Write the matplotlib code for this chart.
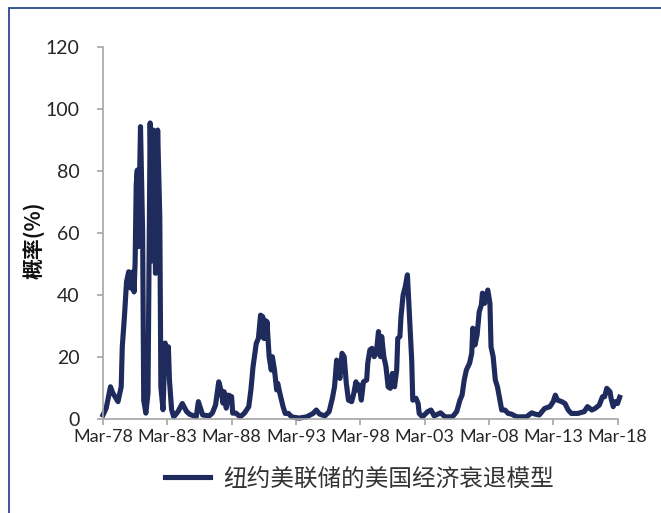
import matplotlib.pyplot as plt
from matplotlib.patches import Rectangle

# Months after Mar-78 and recession probability (%)
months = [0, 3, 7, 9, 14, 17, 18, 20, 22, 24, 26, 28, 29, 30, 31, 32, 33, 35, 37, 38,
          40, 42, 44, 46, 47, 49, 51, 53, 54, 56, 58, 60, 61, 62, 64, 66, 70, 74, 78, 81,
          87, 89, 93, 99, 102, 105, 108, 110, 112, 113, 115, 117, 120, 121, 124, 128, 132, 136, 138, 140,
          143, 145, 147, 149, 150, 151, 152, 153, 155, 157, 158, 160, 162, 163, 165, 168, 170, 173, 176, 183,
          190, 196, 199, 202, 207, 211, 214, 216, 218, 219, 221, 223, 225, 227, 229, 232, 234, 236, 237, 239,
          241, 243, 246, 247, 249, 251, 253, 255, 257, 259, 260, 262, 264, 266, 268, 270, 272, 274, 275, 277,
          278, 280, 282, 284, 286, 288, 289, 292, 294, 295, 298, 303, 306, 309, 315, 319, 326, 330, 333, 335,
          337, 339, 342, 344, 345, 347, 349, 351, 353, 354, 356, 359, 361, 362, 364, 366, 368, 372, 375, 378,
          381, 386, 395, 400, 403, 407, 412, 417, 420, 422, 424, 428, 431, 434, 437, 443, 449, 452, 456, 459,
          463, 466, 468, 470, 473, 474, 476, 478, 480, 482]
prob = [1.3, 3.5, 10.4, 8.5, 5.6, 10.4, 23.3, 33.0, 44.3, 47.5, 42.2, 47.5, 41.0, 51.0, 75.5, 80.3, 55.6, 94.3, 60.0, 6.0,
        1.9, 8.4, 95.5, 51.0, 93.2, 47.0, 93.2, 65.0, 10.4, 3.0, 24.5, 14.8, 23.3, 12.6, 3.0, 0.7, 2.4, 5.0, 2.4, 1.5,
        0.7, 5.6, 1.3, 1.0, 1.9, 4.5, 12.0, 9.4, 5.1, 8.8, 3.5, 7.7, 7.2, 1.9, 1.9, 0.7, 1.9, 4.0, 9.4, 16.9,
        24.4, 26.0, 33.5, 33.0, 26.0, 31.9, 26.0, 31.4, 20.1, 15.8, 20.1, 15.8, 9.4, 11.5, 8.3, 4.0, 1.8, 1.8, 0.7, 0.3,
        0.7, 1.8, 2.9, 1.6, 1.0, 2.4, 6.7, 10.4, 19.0, 18.0, 13.1, 21.2, 20.1, 11.5, 6.1, 5.6, 8.3, 12.0, 9.4, 11.0,
        6.1, 12.0, 12.6, 18.0, 22.3, 22.8, 20.1, 21.2, 28.2, 20.1, 26.6, 20.1, 16.9, 10.4, 9.9, 14.7, 10.4, 15.8, 26.0, 26.6,
        33.0, 40.0, 42.7, 46.5, 33.0, 19.0, 6.1, 6.7, 5.0, 1.8, 0.7, 2.4, 2.9, 1.0, 2.0, 0.7, 0.7, 2.4, 6.1, 7.7,
        12.6, 15.8, 18.0, 21.2, 29.3, 23.9, 27.1, 34.6, 36.8, 40.6, 37.3, 41.6, 37.3, 23.3, 20.1, 12.6, 10.4, 2.9, 2.9, 1.8,
        1.6, 0.7, 0.7, 2.0, 1.6, 1.3, 3.4, 4.0, 5.6, 7.7, 6.1, 5.6, 5.0, 2.9, 1.8, 1.8, 2.4, 4.0, 2.9, 3.4,
        4.5, 7.2, 7.2, 9.9, 8.8, 6.7, 4.0, 5.6, 5.0, 7.01]

tick_months = [0, 60, 120, 180, 240, 300, 360, 420, 480]
tick_labels = ['Mar-78', 'Mar-83', 'Mar-88', 'Mar-93', 'Mar-98',
               'Mar-03', 'Mar-08', 'Mar-13', 'Mar-18']

navy = '#1e2b5c'
grey = '#a6a6a6'
cjk = ['Noto Sans CJK SC', 'DejaVu Sans']

plt.rcParams['font.family'] = ['Lato', 'DejaVu Sans']

fig = plt.figure(figsize=(6.61, 5.13), dpi=100)
ax = fig.add_axes([0.1558, 0.1832, 0.7784, 0.7252])

# outer frame, cut off at right and bottom like the source image
fig.patches.append(Rectangle((9 / 661, -0.2), 1.2, 1.2 - 8 / 513,
                             transform=fig.transFigure, fill=False,
                             edgecolor='#2b4a8c', linewidth=1.3))

ax.plot(months, prob, color=navy, linewidth=3.7, solid_joinstyle='round',
        clip_on=False, label='纽约美联储的美国经济衰退模型')

ax.set_xlim(0, 480)
ax.set_ylim(0, 120)
ax.set_yticks(range(0, 121, 20))
ax.set_xticks(tick_months)
ax.set_xticklabels(tick_labels)

for side in ['top', 'right']:
    ax.spines[side].set_visible(False)
for side in ['left', 'bottom']:
    ax.spines[side].set_color(grey)
    ax.spines[side].set_linewidth(1.2)

ax.tick_params(axis='y', direction='out', length=4, color=grey, width=1.2,
               labelsize=14, labelcolor='#262626', pad=13)
ax.tick_params(axis='x', direction='out', length=4, color=grey, width=1.2,
               labelsize=13, labelcolor='#262626', pad=3)

ax.annotate(f'{prob[-1]:.2f}', xy=(months[-1], prob[-1]), xytext=(-14, 22),
            textcoords='offset points', ha='center', va='center',
            fontsize=13.5, color='#262626')

fig.text(0.053, 1 - 240 / 513, '概率(%)', rotation=90, ha='center', va='center',
         fontsize=15, fontweight='bold', family=cjk, color='#111111')

leg = fig.legend(loc='center', bbox_to_anchor=(0.544, 0.066), frameon=False,
                 handlelength=1.9, handletextpad=0.55,
                 prop={'family': cjk, 'size': 17})
for t in leg.get_texts():
    t.set_color('#333333')

fig.savefig('out.png', dpi=100)
